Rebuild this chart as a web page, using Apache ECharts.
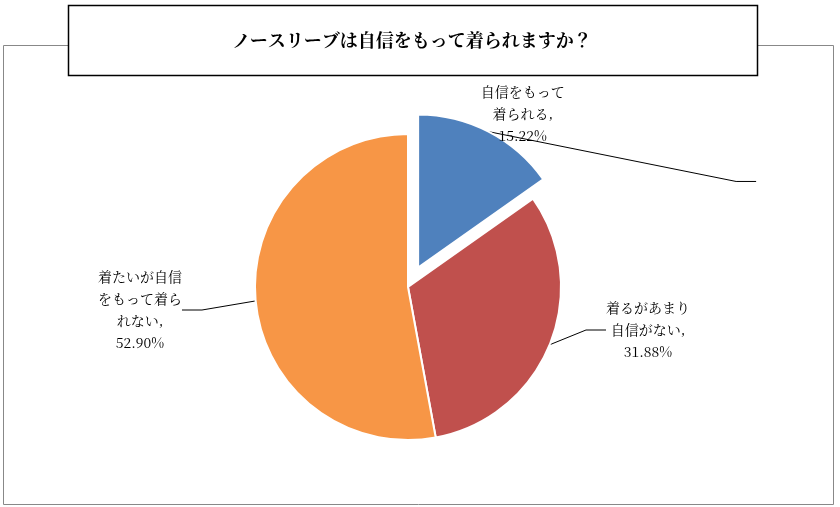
<!DOCTYPE html>
<html><head><meta charset="utf-8">
<script src="https://cdn.jsdelivr.net/npm/echarts@6/dist/echarts.min.js"></script>
<style>html,body{margin:0;background:#fff}#c{width:840px;height:507px}</style>
</head><body><div id="c"></div>
<script>
var titleText = 'ノースリーブは自信をもって着られますか？';
var names = ['自信をもって\n着られる', '着るがあまり\n自信がない', '着たいが自信\nをもって着ら\nれない'];
var values = [15.22, 31.88, 52.90];
var colors = ['#4F81BD', '#C0504D', '#F79646'];

var chart = echarts.init(document.getElementById('c'));
var font = '"Noto Serif CJK JP","Noto Sans CJK JP",serif';
chart.setOption({
  animation: false,
  graphic: [
    {type: 'rect', shape: {x: 3.5, y: 45.5, width: 830, height: 459}, style: {fill: 'none', stroke: '#888', lineWidth: 1}, z: 0},
    {type: 'rect', shape: {x: 68.5, y: 5.5, width: 689, height: 70}, style: {fill: '#fff', stroke: '#000', lineWidth: 1.5}, z: 1},
    {type: 'text', x: 412, y: 40, style: {text: titleText, font: 'bold 18px ' + font, fill: '#000', align: 'center', verticalAlign: 'middle'}, z: 2}
  ],
  series: [{
    type: 'pie',
    center: [408, 287],
    radius: 153,
    startAngle: 90,
    clockwise: true,
    itemStyle: {borderColor: '#fff', borderWidth: 2},
    label: {
      color: '#000', fontSize: 14, lineHeight: 22, fontFamily: font, align: 'center',
      formatter: function (p) { return p.name + ',\n' + p.value.toFixed(2) + '%'; }
    },
    labelLine: {show: true, lineStyle: {color: '#000', width: 1}, length: 20, length2: 20},
    labelLayout: function (p) {
      var pos = [[788, 201], [648, 330], [140, 310]][p.dataIndex];
      return {x: pos[0], y: pos[1], align: 'center', verticalAlign: 'middle'};
    },
    data: values.map(function (v, i) {
      var d = {name: names[i], value: v, itemStyle: {color: colors[i]}};
      if (i === 0) { d.selected = true; }
      return d;
    }),
    selectedMode: 'single',
    selectedOffset: 22
  }]
});
</script></body></html>
